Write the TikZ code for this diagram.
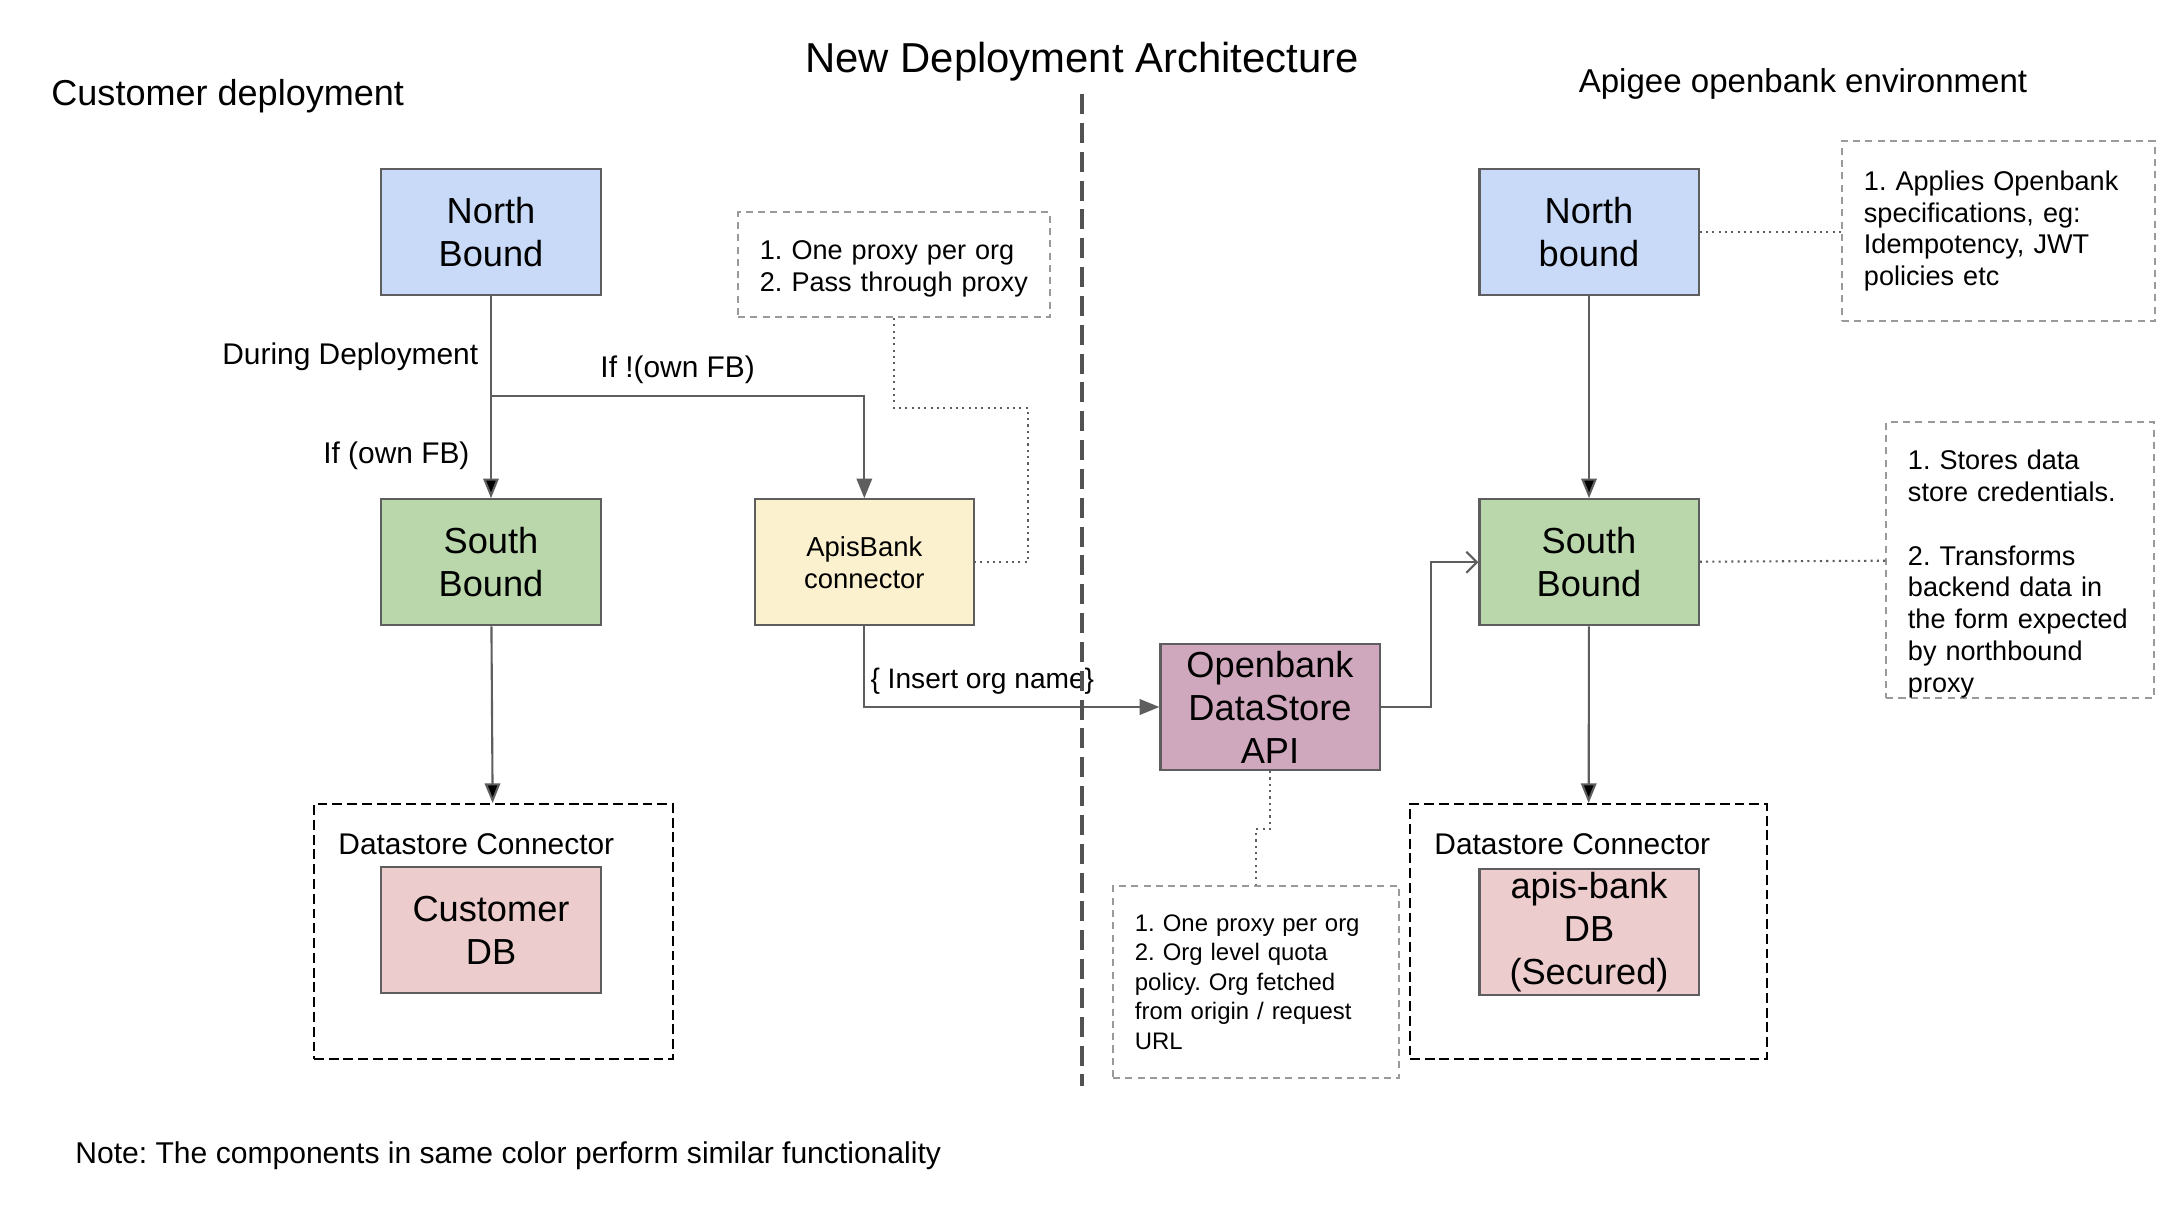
\documentclass[tikz,border=0pt]{standalone}
\usepackage{fontspec}
\setmainfont{Liberation Sans}
\usepackage{xcolor}
\usetikzlibrary{positioning,arrows.meta}
\frenchspacing

\definecolor{nbblue}{HTML}{C9DAF8}
\definecolor{sbgreen}{HTML}{BAD6AB}
\definecolor{conyellow}{HTML}{FCF1CF}
\definecolor{odspurple}{HTML}{D0A8BD}
\definecolor{dbpink}{HTML}{ECCCCC}
\definecolor{edgegray}{HTML}{5E5E5E}
\definecolor{notegray}{HTML}{9A9A9A}

\tikzset{
  block/.style={draw=edgegray, line width=0.6pt, minimum width=2.19cm, minimum height=1.26cm,
    inner sep=0pt, align=center, font=\fontsize{10.3}{12.2}\selectfont},
  dsbox/.style={draw=black, line width=0.5pt, dash pattern=on 2.8pt off 1.4pt,
    minimum height=2.55cm, inner sep=0pt},
  note/.style={draw=notegray, line width=0.5pt, dash pattern=on 2pt off 1.5pt, align=left,
    inner xsep=6.2pt, inner ysep=0pt, font=\fontsize{7.7}{9.05}\selectfont},
  lbl/.style={font=\fontsize{8.5}{10}\selectfont},
  arr/.style={draw=edgegray, line width=0.6pt, -{Triangle[length=5.6pt,width=4.4pt]}},
  dot/.style={draw=edgegray, line width=0.6pt, dash pattern=on 0.6pt off 1.2pt},
  divider/.style={draw=black!68, line width=1.4pt, dash pattern=on 5.7pt off 2.5pt}
}

\begin{document}
\begin{tikzpicture}[x=0.01cm, y=-0.01cm, node distance=2.02cm]
\useasboundingbox (0,0) rectangle (2170,1206);

% headings
\node [font=\fontsize{11.9}{14}\selectfont] (title) at (1082,62) {New Deployment Architecture};
\node [font=\fontsize{10.25}{12}\selectfont, anchor=west] (custhead) at (39,96) {Customer deployment};
\node [font=\fontsize{9.4}{11}\selectfont] (apihead) at (1803,84) {Apigee openbank environment};

% customer deployment
\node [block, fill=nbblue] (nb1) at (491,232) {North\\Bound};
\node [block, fill=sbgreen] [below=of nb1] (sb1) {South\\Bound};
\node [block, fill=conyellow, font=\fontsize{7.8}{9.1}\selectfont] [right=1.52cm of sb1] (con) {ApisBank\\connector};
\node [dsbox, minimum width=3.59cm] (dc1) at (493.5,931.5) {};
\node [block, fill=dbpink] (db1) at (491,930) {Customer\\DB};
\node [lbl, anchor=west] (dl1) at (326,844) {Datastore Connector};
\node [note, text width=2.68cm, minimum height=1.05cm] (n1) at (894,264.5) {\rule{0pt}{7.9pt}1. One proxy per org\\2. Pass through proxy};

% apigee openbank environment
\node [block, fill=odspurple] (ods) at (1270,707) {Openbank\\DataStore\\API};
\node [block, fill=nbblue] (nb2) at (1589,232) {North\\bound};
\node [block, fill=sbgreen] [below=of nb2] (sb2) {South\\Bound};
\node [dsbox, minimum width=3.57cm] (dc2) at (1588.5,931.5) {};
\node [block, fill=dbpink] (db2) at (1589,932) {apis-bank\\DB\\(Secured)};
\node [lbl, anchor=west] (dl2) at (1422,844) {Datastore Connector};
\node [note, text width=2.69cm, minimum height=1.80cm] (n2) at (1998.5,231) {1. Applies Openbank\\specifications, eg:\\Idempotency, JWT\\policies etc};
\node [note, text width=2.24cm, minimum height=2.76cm] (n3) at (2020,560) {\rule{0pt}{13.6pt}1. Stores data\\store credentials.\\[9pt]2. Transforms\\backend data in\\the form expected\\by northbound\\proxy};
\node [note, text width=2.42cm, minimum height=1.92cm, font=\fontsize{6.8}{8.4}\selectfont] (n4) at (1256,982) {1. One proxy per org\\2. Org level quota\\policy. Org fetched\\from origin / request\\URL};

\node [font=\fontsize{8.55}{10}\selectfont, anchor=west] (foot) at (63,1156) {Note: The components in same color perform similar functionality};

% connectors
\coordinate (fork) at (491,396);
\path [arr]
  (nb1) edge node [lbl, pos=0.3, left] {During Deployment} node [lbl, pos=0.79, left=2.5pt] {If (own FB)} (sb1)
  (sb1) edge (dc1)
  (nb2) edge (sb2)
  (sb2) edge (dc2);
\draw [arr] (fork) -| node [lbl, pos=0.25, above] {If !(own FB)} (con);
\draw [arr] (con) |- node [lbl, pos=0.7, above, font=\fontsize{8}{10}\selectfont] {\{ Insert org name\}} (ods);
\draw [draw=edgegray, line width=0.6pt, -{Straight Barb[length=3pt,width=6pt]}] (ods.east) -- ++(50,0) |- (sb2);

\draw [dot] (n1.south) -- ++(0,90) -- ++(134,0) |- (con.east);
\draw [dot] (nb2.east) -- (nb2.east -| n2.west);
\draw [dot] (sb2) -- (n3);
\draw [dot] (ods.south) -- ++(0,58) -| (n4.north);

% divider
\coordinate (divtop) at (1082,94);
\coordinate (divbot) at (1082,1086);
\draw [divider] (divtop) -- (divbot);
\end{tikzpicture}
\end{document}
